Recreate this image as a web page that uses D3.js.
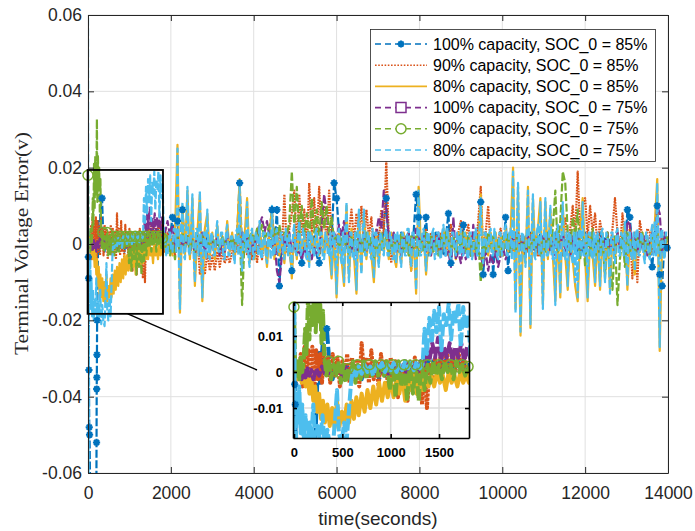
<!DOCTYPE html>
<html>
<head>
<meta charset="utf-8">
<script src="https://cdn.jsdelivr.net/npm/d3@7"></script>
<style>
  body { margin: 0; background: #fff; }
  svg { display: block; font-family: "Liberation Sans", Arial, Helvetica, sans-serif; }
</style>
</head>
<body>
<div id="chart"></div>
<script>
// ---- data (error values in mV) ----
const legendLabels = [
  "100% capacity, SOC_0 = 85%",
  "90% capacity, SOC_0 = 85%",
  "80% capacity, SOC_0 = 85%",
  "100% capacity, SOC_0 = 75%",
  "90% capacity, SOC_0 = 75%",
  "80% capacity, SOC_0 = 75%"
];
const xTicks = [0, 2000, 4000, 6000, 8000, 10000, 12000, 14000];
const xTickLabels = ["0", "2000", "4000", "6000", "8000", "10000", "12000", "14000"];
const yTicks = [-0.06, -0.04, -0.02, 0, 0.02, 0.04, 0.06];
const yTickLabels = ["-0.06", "-0.04", "-0.02", "0", "0.02", "0.04", "0.06"];
const insetXTicks = [0, 500, 1000, 1500];
const insetXTickLabels = ["0", "500", "1000", "1500"];
const insetYTicks = [-0.01, 0, 0.01];
const insetYTickLabels = ["-0.01", "0", "0.01"];

// first 1800 s: [time (s), error (mV)]
const blueEarly = [[0,-2],[8,-3.4],[14,-9],[22,-33],[30,-48],[38,-50],[60,-75],[200,-75],[206,-52],[210,-38],[213,-35],[216,-29],[220,-20],[235,-8],[250,6],[270,-3],[300,9],[340,12],[370,1],[400,-2],[430,2],[460,-1],[490,1],[520,-2],[550,1.5],[580,-1],[610,2],[640,-1],[670,1],[700,-2],[730,1.5],[760,-1],[790,2],[820,-1],[850,1],[880,-2],[910,1.5],[940,-1],[970,2],[1000,-1],[1030,1],[1060,-2],[1090,1.5],[1120,-1],[1150,2],[1180,-1],[1210,1],[1240,-2],[1270,1.5],[1300,-1],[1330,2],[1360,0],[1390,3],[1420,1],[1450,4],[1480,1],[1510,3],[1540,0],[1570,4],[1600,1],[1630,3],[1660,0],[1690,4],[1720,1],[1750,3],[1780,0],[1810,2],[1830,-1]];
const orangeEarly = [[0,0],[15,-3],[30,2],[50,-2],[70,5],[90,-4],[110,7],[130,1],[150,6],[170,-3],[190,7],[210,-5],[230,6],[250,-2],[270,5],[290,-3],[310,7],[330,0],[350,4],[375,-3],[400,5],[425,-1],[450,4],[475,-4],[500,3],[525,-2],[550,5],[575,-3],[600,4],[625,-2],[650,3],[675,-4],[700,8],[725,-1],[750,4],[775,-3],[800,6],[825,-2],[850,3],[875,-4],[900,5],[925,-1],[950,3],[975,-5],[1000,4],[1025,-2],[1050,3],[1075,-7],[1100,2],[1125,-4],[1150,3],[1175,-8],[1200,2],[1225,-3],[1250,4],[1275,-6],[1300,1],[1325,-9],[1350,3],[1375,-10],[1400,2],[1430,-3],[1460,4],[1490,-1],[1520,5],[1550,0],[1580,6],[1610,-1],[1640,4],[1670,0],[1700,6],[1730,-1],[1760,5],[1790,0],[1830,-2]];
const yellowEarly = [[0,0],[20,3],[40,-2],[60,2],[80,-3],[100,1],[120,-4],[140,-1],[160,-6],[180,-2],[200,-8],[220,-4],[240,-11],[260,-6],[280,-13],[300,-8],[320,-14],[345,-9],[370,-15],[395,-10],[420,-15.5],[445,-8],[470,-15],[495,-11],[520,-14],[545,-9],[570,-14],[595,-8],[620,-13],[645,-7],[670,-12],[700,-6],[730,-11],[760,-5],[790,-10],[820,-4],[850,-9],[880,-3],[910,-8],[940,-3],[970,-7],[1000,-2],[1030,-7],[1060,-2],[1090,-6],[1120,-1],[1150,-8],[1180,-2],[1210,-5],[1240,-1],[1270,-6],[1300,-1],[1330,-5],[1360,-1],[1390,-4],[1420,-1],[1450,-4],[1480,0],[1510,-3],[1540,-1],[1570,-5],[1600,0],[1630,-3],[1660,-1],[1690,-4],[1720,0],[1750,-3],[1780,-1],[1810,-3],[1830,2]];
const purpleEarly = [[0,0],[20,1],[40,-1],[60,1],[80,-2],[100,0.5],[120,-1.5],[140,1],[160,-1],[180,0.5],[200,-2],[230,1],[260,-1],[290,1.5],[320,-0.5],[350,1],[380,-1],[410,1.5],[440,-0.5],[470,1],[500,-1],[530,1.5],[560,0],[590,1],[620,-1],[650,1.5],[680,0],[710,1],[740,-1],[770,1.5],[800,0],[830,1],[860,-0.5],[890,1.5],[920,0],[950,1],[980,-0.5],[1010,1.5],[1040,0],[1070,2],[1100,0.5],[1130,2],[1160,0],[1190,2.5],[1220,0.5],[1250,2],[1280,0],[1310,3],[1340,1],[1370,6],[1400,3],[1430,8],[1460,4],[1490,9.5],[1520,3],[1550,7],[1580,4],[1610,8],[1640,3],[1670,7],[1700,4],[1730,8],[1760,3],[1790,7],[1830,3]];
const greenEarly = [[0,18],[12,2],[25,-1],[40,3],[55,-2],[70,4],[85,0],[100,3],[115,12],[130,5],[145,21],[160,9],[175,23],[190,13],[205,20],[215,32.7],[225,11],[240,23],[255,14],[270,20],[285,8],[300,17],[315,4],[335,-1],[360,3],[385,-2],[410,2],[435,-1],[460,3],[485,-3],[510,2],[535,-3],[560,1],[585,-2],[610,3],[635,-3],[660,2],[690,-2],[720,3],[750,-2],[780,2],[810,-1],[840,3],[870,-1],[900,2],[930,-1],[960,3],[990,-5],[1020,2],[1050,-7],[1080,3],[1110,-4],[1140,2],[1170,-8],[1200,3],[1230,-6],[1260,2],[1290,-8],[1320,3],[1350,-5],[1380,2],[1410,-3],[1440,3],[1470,-1],[1500,2],[1530,-2],[1560,3],[1590,0],[1620,2],[1650,-2],[1680,3],[1710,0],[1740,2],[1770,-1],[1800,1.5],[1830,0]];
const lightBlueEarly = [[0,62],[12,-62],[25,-6],[40,-14],[55,-4],[70,-17],[85,-9],[100,-19],[120,-12],[140,-20],[160,-14],[180,-18],[200,-9],[220,-21],[245,-15],[270,-19],[295,-12],[320,-21],[345,-16],[370,-20],[400,-21.5],[425,-13],[445,-5],[465,-17],[490,-20],[520,-14],[545,-19],[570,-10],[590,-3],[610,0.5],[640,-1],[670,1.5],[700,-0.5],[730,2],[760,0],[790,1.5],[820,-1],[850,2],[880,0.5],[910,2.5],[940,0],[970,2],[1000,0.5],[1030,2.5],[1060,0],[1090,2],[1120,0.5],[1150,3],[1180,1],[1210,2.5],[1240,0.5],[1270,3],[1300,1],[1330,2],[1350,12],[1375,5],[1400,15],[1425,8],[1450,17],[1475,11],[1500,18],[1525,6],[1550,16],[1575,13],[1600,19],[1625,9],[1650,17],[1675,14],[1700,19],[1725,7],[1750,18],[1775,12],[1800,16],[1830,3]];

// after 1800 s: one value every 60 s from 1860 s (mV)
const lateT = d3.range(1860, 14000, 60);
const blueLate = [
  1, -2, 2, 7, -2, 6, -3, 9, -1, 2,
  -2, 3, -1, 2, -3, 1, -2, 3, -1, 2,
  -2, 1, -3, 2, -1, 3, -2, 1, -2, 3,
  16, -2, 3, -1, 2, -3, 1, -2, 3, -1,
  2, -2, 3, 9, -1, 9, -11, 2, -2, 3,
  -1, -7, 2, -3, 1, -5, 2, -2, 3, -1,
  2, -3, -5, 2, -1, 3, -2, 1, 16, 12,
  3, -2, 2, -1, 3, -2, 1, -3, 2, -1,
  3, -2, 1, -3, 2, -1, 3, -2, 5, 12,
  -1, 2, -3, 1, -2, 3, -1, 2, -2, 1,
  3, 13, 7, -2, 1, 7, -3, 2, -1, 3,
  -2, 1, -3, 2, 8, -5, 2, -1, 3, -2,
  5, -1, 2, -3, 1, -2, 3, 11, -8, 2,
  -1, 3, -8, 2, -2, 1, -3, 7, -7, 2,
  -1, 3, -2, 1, -3, 2, -1, 3, -2, 1,
  -2, 3, -1, 2, -3, 1, -2, 3, -1, 2,
  -3, 1, -2, 3, -1, 2, -3, 1, -2, 3,
  -1, 2, -3, 1, -2, 3, -1, 2, -3, 1,
  2, -2, 3, -1, 2, -3, 9, 7, -2, 1,
  3, -2, 1, -3, 2, -1, -6, 2, 10, -8,
  -11, 2, -1
];
const orangeLate = [
  -2, 3, -1, 2, -3, 4, -2, 3, -1, 2,
  -3, 2, -1, 3, -8, -3, -8, -2, -7, -3,
  -7, -2, -6, -2, -5, -3, -5, -2, 1, -2,
  3, -1, 2, -3, 1, -4, 2, -5, 1, -4,
  2, -2, 3, -1, 4, -2, 3, -1, 13, -2,
  4, 8, 14, -1, 13, 2, 9, -2, 16, 3,
  12, 1, 15, 2, 10, -1, 14, 2, -3, 1,
  3, -2, 2, -1, 3, 9, 1, 8, 2, 10,
  -1, 9, 2, 7, -2, 4, 1, 9, 3, 22,
  2, -5, 3, -1, 2, -3, 1, -2, 3, -7,
  2, -1, 3, -2, 1, 4, -2, 3, -1, 2,
  -2, 3, -1, 2, -3, 5, 1, -2, 3, 6,
  -1, 2, 5, -2, 3, -1, 6, 15, -2, 3,
  10, -1, 2, -3, 1, 4, -2, 3, -1, 2,
  -2, 3, -1, 2, -3, 1, -2, 3, -1, 2,
  -3, 1, -2, 3, -1, 2, -3, 1, 5, -1,
  3, 7, -1, 4, 10, 2, 19, 3, 10, 12,
  2, 10, 3, 8, -1, 6, 2, -3, 1, -2,
  4, 12, 3, -2, 8, 2, -8, 5, -9, 3,
  -10, 6, 2, -1, 4, 3, -2, 2, 3, -1,
  2, -2, 1
];
const yellowLate = [
  3, -2, 2, -3, 3, 26, -18, 10, -3, 14,
  -4, 12, -11, 3, 13, -15, 4, 8, -3, 3,
  -4, 5, -3, 2, -3, 6, -2, 3, -4, 3,
  17, -6, 2, 12, -5, 3, -4, 3, 5, -3,
  2, -6, 3, 9, -4, 3, -3, 2, -5, 3,
  2, -9, 4, -4, 5, -3, 2, -3, -5, 3,
  -2, 3, -3, 4, -3, 3, -2, -9, 2, -14,
  3, -4, -11, 10, -9, 4, -3, -13, 8, -7,
  8, -4, 3, -3, -10, 2, -5, 3, -2, 3,
  -4, 3, -3, -6, 2, -5, 3, -2, 3, -7,
  2, -13, 15, -2, 3, -8, 2, -3, 3, -2,
  2, -3, 4, -2, 3, -3, 2, -4, 3, 3,
  -2, 3, -3, 2, -3, 3, -2, 13, -4, 2,
  -3, 3, -2, 3, -3, 2, -3, 4, -2, 3,
  20, -17, 15, -24, 2, -5, 15, -22, 12, -3,
  4, 12, -16, 11, -4, 9, -3, -15, 4, -14,
  10, -3, -12, 2, -4, -11, -15, 3, 12, -4,
  -15, 2, -3, -11, 2, -12, 3, -9, 3, -12,
  2, -4, 3, -2, 3, 5, -12, 2, -3, -8,
  3, -2, 3, -4, 2, -3, 4, 5, 17, -28,
  3, -3, 2
];
const purpleLate = [
  3, 6, 2, 5, -1, 2, -2, 1, -1, 2,
  -2, 1, -3, 2, -1, 3, -2, 1, -2, 2,
  -1, 2, -3, 1, -2, 3, -1, 2, -2, 1,
  -2, 3, -1, 2, -3, 1, -2, 3, 5, 7,
  3, 6, 2, -1, 2, -7, -10, -3, 2, -1,
  3, -2, 1, -3, -2, -4, -1, -3, -2, -4,
  -1, -3, -2, 5, 13, 8, 2, -1, 3, 1,
  5, 2, 6, -1, 3, -2, 1, -3, 2, -1,
  3, -2, 1, -1, 2, 3, 7, 4, 14, 9,
  2, -1, 3, -2, 1, -3, 2, -1, 3, -2,
  1, 4, 2, -1, 3, -2, 1, -3, 2, -1,
  3, -2, 1, -3, -2, -6, 7, -4, -2, -5,
  -1, -4, -2, -3, 5, -4, -2, -3, -6, -2,
  -7, -3, -5, -2, -6, -3, -1, -4, -2, -1,
  2, -1, 3, -2, 1, -3, 2, -1, 2, -2,
  1, -3, 2, -1, 3, -2, 1, -3, 2, -1,
  3, -2, 1, -3, 2, -1, 3, -2, 1, -3,
  2, -1, 3, -2, 1, -3, 2, -1, 3, -2,
  1, -2, 3, -1, 2, -3, 6, 5, -1, 2,
  -2, 3, -1, 2, -3, 1, 3, -2, 10, 8,
  -2, 3, 1
];
const greenLate = [
  -1, 2, -3, 1, -4, 2, -2, 3, -1, 2,
  -2, 1, -3, 2, -1, 2, 0, 1, -1, 2,
  0, 1, -1, 2, 0, 1, -1, 2, -2, 1,
  5, -16, 2, -1, 2, 3, 1, 4, 2, 5,
  1, 3, 5, 1, 4, 2, 5, 1, 3, 2,
  6, 19, 4, 15, 3, 10, 2, 8, 1, 12,
  3, 9, 2, 11, 4, 10, 3, 7, 1, 2,
  -1, 2, -2, 1, -3, 2, -1, 3, -2, 1,
  -2, 3, -1, 2, -4, 1, -2, 3, -1, 2,
  -3, 1, -2, 2, -1, 3, -2, 1, -3, 2,
  -1, 2, -3, 1, -2, 3, -1, 2, -2, 1,
  -3, 2, -1, 3, 1, -2, 2, -3, 2, -1,
  3, -2, 2, -3, 1, -2, 2, -10, 1, -2,
  3, -1, 2, -2, 1, -3, 2, -1, 3, -2,
  1, -2, 3, -1, 2, -3, 1, -2, 3, -1,
  2, -3, 1, -2, 3, -1, 4, 14, -2, 6,
  19, 16, 3, -2, 7, 2, 9, -4, 3, -6,
  2, -3, 4, -5, 2, -3, 1, -8, 3, -5,
  -12, 2, -16, -4, 2, -6, 3, -2, 1, -3,
  2, -1, 3, -2, 1, -3, 2, -1, 3, -2,
  1, -2, 2
];
// light blue is the densest trace: one value every 30 s from 1860 s (mV)
const lateT30 = d3.range(1860, 14000, 30);
const lightBlueLate = [
  2,-3, -3,3, 3,-2, -2,4, 4,-2, 25,-3, -17,3, 11,-3, -4,3, 15,-2,
  -3,3, 13,-3, -10,4, 4,-3, 14,-2, -14,3, 3,-4, 9,-3, -4,3, 2,-3,
  -3,3, 6,-2, -2,3, 3,-4, -4,3, 5,-3, -3,2, 2,-3, -5,3, 4,-3,
  16,-3, -7,3, 3,-2, 11,-3, -6,3, 4,-4, -3,3, 2,-3, 6,-3, -4,3,
  3,-3, -5,3, 2,-4, 10,-3, -3,3, 4,-2, -2,3, 3,-3, -4,4, 2,-3,
  3,-3, -8,3, 5,-2, -3,3, 6,-3, -2,4, 3,-3, -4,3, -6,3, 2,-3,
  -3,3, 4,-3, -2,3, 3,-4, -4,3, 2,-3, -3,3, -8,3, 3,-2, -13,3,
  4,-3, -5,3, -10,3, 11,-3, -10,3, 3,-4, -4,3, -12,3, 9,-3, -8,3,
  9,-3, -3,3, 2,-3, -4,4, -9,3, 3,-3, -6,3, 2,-2, -3,3, 4,-3,
  -3,3, 2,-4, -4,3, -5,3, 3,-3, -6,3, 2,-3, -3,4, 4,-3, -6,3,
  3,-3, -12,3, 14,-3, -3,3, 4,-2, -7,3, 3,-3, -2,3, 4,-4, -3,3,
  3,-3, -4,3, 5,-3, -3,4, 2,-3, -4,3, 3,-2, -3,3, 2,-3, 4,-3,
  -3,3, 2,-3, -4,3, 3,-4, -2,3, 4,-3, -3,3, 12,-3, -5,3, 3,-2,
  -2,3, 4,-3, -3,4, 2,-3, -4,3, 3,-3, -2,3, 5,-3, -3,3, 4,-4,
  19,-3, -18,3, 16,-3, -23,3, 3,-3, -6,3, 14,-3, -21,3, 13,-3, -4,3,
  5,-3, 11,-3, -17,3, 12,-3, -3,3, 10,-3, -4,3, -16,3, 5,-3, -13,3,
  11,-3, -4,3, -11,3, 3,-3, -5,3, -10,3, -14,3, 4,-3, 11,-3, -3,3,
  -14,3, 3,-3, -4,3, -10,3, 3,-3, -11,3, 4,-3, -10,3, 2,-3, -13,3,
  3,-3, -5,3, 4,-3, -3,3, 2,-3, 6,-3, -11,3, 3,-3, -4,3, -7,3,
  4,-3, -3,3, 2,-3, -5,3, 3,-3, -4,3, 5,-3, 6,-3, 16,-3, -27,3,
  4,-3, -4,3, 3
];

// times (s) of the samples that carry a marker
const blueMarkT = [8, 14, 22, 30, 38, 206, 210, 213, 216, 220, 340,
  2040, 2160, 2280, 3660, 4440, 4560, 4620, 4920, 5160, 5580, 5940, 6000, 7200,
  7920, 7980, 8160, 8700, 8760, 9060, 9480, 9540, 9780, 10080, 10140,
  13020, 13080, 13620, 13740, 13800, 13860, 13980];
const purpleMarkT = [];
const greenMarkT = [0, 360, 460, 560, 660, 780, 900, 1020, 1140, 1260, 1380, 1500, 1620, 1740, 1800];

// ---- build ----
const colors = ["#0072BD", "#D95319", "#EDB120", "#7E2F8E", "#77AC30", "#4DBEEE"];
// dash patterns: legend sample / main axes / inset
const dashed = { legend: "6,4", main: "8,2.5", inset: "12,3" };
const dotted = { legend: "1.6,1.6", main: "1.8,1", inset: "3,1.2" };
const solid = { legend: null, main: null, inset: null };
const styles = [
  { dash: dashed, marker: "asterisk", markT: blueMarkT },
  { dash: dotted, marker: null, markT: [] },
  { dash: solid, marker: null, markT: [] },
  { dash: dashed, marker: "square", markT: purpleMarkT },
  { dash: dashed, marker: "circle", markT: greenMarkT },
  { dash: dashed, marker: null, markT: [] }
];
const earlyData = [blueEarly, orangeEarly, yellowEarly, purpleEarly, greenEarly, lightBlueEarly];
const lateData = [blueLate, orangeLate, yellowLate, purpleLate, greenLate, lightBlueLate];
const lateTimes = [lateT, lateT, lateT, lateT, lateT, lateT30];

const series = legendLabels.map((name, k) => {
  const pts = earlyData[k].map(([t, v]) => ({ t, v: v / 1000 }))
    .concat(lateData[k].map((v, i) => ({ t: lateTimes[k][i], v: v / 1000 })));
  return { name, color: colors[k], ...styles[k], pts };
});

const W = 695, H = 531;
const svg = d3.select("#chart").append("svg").attr("width", W).attr("height", H);
svg.append("rect").attr("width", W).attr("height", H).attr("fill", "#fff");

const xMain = d3.scaleLinear().domain([0, 14000]).range([88, 668]);
const yMain = d3.scaleLinear().domain([-0.06, 0.06]).range([473, 15]);
const zoomT = [-10, 1810], zoomV = [-0.0183, 0.0194];
const xIn = d3.scaleLinear().domain(zoomT).range([293, 469]);
const yIn = d3.scaleLinear().domain(zoomV).range([438, 302]);

const defs = svg.append("defs");
defs.append("clipPath").attr("id", "clipMain").append("rect")
  .attr("x", 88).attr("y", 15).attr("width", 580).attr("height", 458);
defs.append("clipPath").attr("id", "clipIn").append("rect")
  .attr("x", 293).attr("y", 302).attr("width", 176).attr("height", 136);

function markerPath(type, r) {
  if (type === "asterisk") {
    const d = r * 0.7071;
    return `M${-r},0H${r}M0,${-r}V${r}M${-d},${-d}L${d},${d}M${-d},${d}L${d},${-d}`;
  }
  if (type === "square") return `M${-r},${-r}H${r}V${r}H${-r}Z`;
  return d3.symbol(d3.symbolCircle, Math.PI * r * r)();
}

function drawPanel(g, x, y, clipId, lw, which) {
  const [t0, t1] = x.domain(), [v0, v1] = y.domain();
  const line = d3.line().x(d => x(d.t)).y(d => y(d.v)).defined(d => isFinite(d.v));
  const lines = g.append("g").attr("clip-path", `url(#${clipId})`);
  series.forEach(s => {
    lines.append("path")
      .attr("d", line(s.pts))
      .attr("fill", "none")
      .attr("stroke", s.color)
      .attr("stroke-width", lw)
      .attr("stroke-linejoin", "round")
      .attr("stroke-dasharray", s.dash[which]);
    if (s.marker) {
      const marks = s.pts.filter(p => s.markT.includes(p.t) && p.t >= t0 && p.t <= t1 && p.v >= v0 && p.v <= v1);
      g.append("g").selectAll("path").data(marks).join("path")
        .attr("transform", p => `translate(${x(p.t)},${y(p.v)})`)
        .attr("d", markerPath(s.marker, s.marker === "asterisk" ? 3.6 : 5))
        .attr("fill", "none")
        .attr("stroke", s.color)
        .attr("stroke-width", s.marker === "asterisk" ? 2 : 1.5);
    }
  });
}

// ---- main axes ----
const main = svg.append("g");
const grid = main.append("g").attr("stroke", "#e0e0e0").attr("stroke-width", 1);
grid.selectAll(".gx").data(xTicks).join("line")
  .attr("x1", d => xMain(d)).attr("x2", d => xMain(d)).attr("y1", 15).attr("y2", 473);
grid.selectAll(".gy").data(yTicks).join("line")
  .attr("y1", d => yMain(d)).attr("y2", d => yMain(d)).attr("x1", 88).attr("x2", 668);

drawPanel(main, xMain, yMain, "clipMain", 2.2, "main");

function styleAxis(sel, color, fontSize, bold, sw) {
  sel.attr("color", color).attr("font-family", null).attr("font-size", fontSize)
    .attr("font-weight", bold ? "bold" : null);
  sel.select(".domain").attr("stroke-width", sw);
  sel.selectAll(".tick line").attr("stroke-width", sw);
}
styleAxis(main.append("g").attr("transform", "translate(0,473)")
  .call(d3.axisBottom(xMain).tickValues(xTicks).tickFormat((d, i) => xTickLabels[i])
    .tickSizeInner(-6).tickSizeOuter(0).tickPadding(14)), "#262626", 17.5, false, 1);
styleAxis(main.append("g").attr("transform", "translate(88,0)")
  .call(d3.axisLeft(yMain).tickValues(yTicks).tickFormat((d, i) => yTickLabels[i])
    .tickSizeInner(-6).tickSizeOuter(0).tickPadding(6)), "#262626", 17.5, false, 1);
styleAxis(main.append("g").attr("transform", "translate(0,15)")
  .call(d3.axisTop(xMain).tickValues(xTicks).tickFormat("").tickSizeInner(-6).tickSizeOuter(0)), "#262626", 10, false, 1);
styleAxis(main.append("g").attr("transform", "translate(668,0)")
  .call(d3.axisRight(yMain).tickValues(yTicks).tickFormat("").tickSizeInner(-6).tickSizeOuter(0)), "#262626", 10, false, 1);

main.append("text")
  .attr("x", 378).attr("y", 525).attr("text-anchor", "middle")
  .attr("font-size", 19).attr("fill", "#262626")
  .text("time(seconds)");
main.append("text")
  .attr("transform", "translate(28,243.5) rotate(-90)")
  .attr("text-anchor", "middle")
  .attr("font-family", "'Liberation Serif', 'Times New Roman', serif")
  .attr("font-size", 19).attr("fill", "#262626")
  .attr("textLength", 223).attr("lengthAdjust", "spacingAndGlyphs")
  .text("Terminal Voltage Error(v)");

// zoom box and connector
main.append("rect")
  .attr("x", xMain(zoomT[0])).attr("y", yMain(zoomV[1]))
  .attr("width", xMain(zoomT[1]) - xMain(zoomT[0]))
  .attr("height", yMain(zoomV[0]) - yMain(zoomV[1]))
  .attr("fill", "none").attr("stroke", "#000").attr("stroke-width", 1.8);
const connectorT = 960;
main.append("line")
  .attr("x1", xMain(connectorT)).attr("y1", yMain(zoomV[0]))
  .attr("x2", 257).attr("y2", 370)
  .attr("stroke", "#000").attr("stroke-width", 1.4);

// ---- inset ----
const inset = svg.append("g");
inset.append("rect").attr("x", 293).attr("y", 302).attr("width", 176).attr("height", 136).attr("fill", "#fff");
const igrid = inset.append("g").attr("stroke", "#dcdcdc").attr("stroke-width", 1.5);
igrid.selectAll(".gx").data(insetXTicks).join("line")
  .attr("x1", d => xIn(d)).attr("x2", d => xIn(d)).attr("y1", 302).attr("y2", 438);
igrid.selectAll(".gy").data(insetYTicks).join("line")
  .attr("y1", d => yIn(d)).attr("y2", d => yIn(d)).attr("x1", 293).attr("x2", 469);

drawPanel(inset, xIn, yIn, "clipIn", 4, "inset");

styleAxis(inset.append("g").attr("transform", "translate(0,438)")
  .call(d3.axisBottom(xIn).tickValues(insetXTicks).tickFormat((d, i) => insetXTickLabels[i])
    .tickSizeInner(-4).tickSizeOuter(0).tickPadding(10)), "#000", 13, true, 1.6);
styleAxis(inset.append("g").attr("transform", "translate(293,0)")
  .call(d3.axisLeft(yIn).tickValues(insetYTicks).tickFormat((d, i) => insetYTickLabels[i])
    .tickSizeInner(-4).tickSizeOuter(0).tickPadding(10)), "#000", 13, true, 1.6);
styleAxis(inset.append("g").attr("transform", "translate(0,302)")
  .call(d3.axisTop(xIn).tickValues(insetXTicks).tickFormat("").tickSizeInner(-4).tickSizeOuter(0)), "#000", 10, true, 1.6);
styleAxis(inset.append("g").attr("transform", "translate(469,0)")
  .call(d3.axisRight(yIn).tickValues(insetYTicks).tickFormat("").tickSizeInner(-4).tickSizeOuter(0)), "#000", 10, true, 1.6);

// ---- legend ----
const lg = svg.append("g");
lg.append("rect").attr("x", 370.5).attr("y", 29.5).attr("width", 285).attr("height", 132)
  .attr("fill", "#fff").attr("stroke", "#262626").attr("stroke-width", 0.8);
series.forEach((s, k) => {
  const cy = 44 + k * 21.2;
  lg.append("line").attr("x1", 375).attr("x2", 427).attr("y1", cy).attr("y2", cy)
    .attr("stroke", s.color).attr("stroke-width", 1.6)
    .attr("stroke-dasharray", s.dash.legend);
  if (s.marker) {
    lg.append("path").attr("transform", `translate(401,${cy})`)
      .attr("d", markerPath(s.marker, s.marker === "asterisk" ? 3.6 : 5))
      .attr("fill", s.marker === "asterisk" ? "none" : "#fff")
      .attr("stroke", s.color).attr("stroke-width", s.marker === "asterisk" ? 2 : 1.5);
  }
  lg.append("text").attr("x", 433).attr("y", cy).attr("dy", "0.35em")
    .attr("font-size", 16).attr("fill", "#000").text(s.name);
});
</script>
</body>
</html>
